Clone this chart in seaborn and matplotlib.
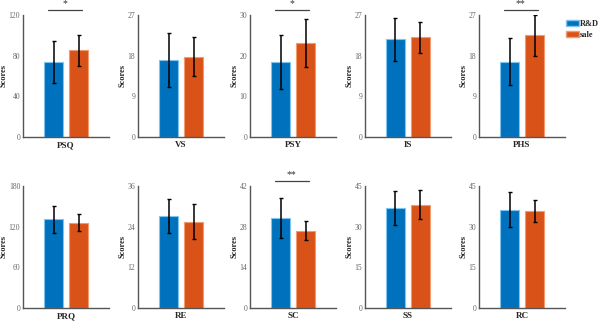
import matplotlib
matplotlib.use("Agg")
import matplotlib.pyplot as plt
import seaborn as sns
import pandas as pd
import numpy as np
from matplotlib.patches import Patch

sns.set_theme(style="white")
plt.rcParams['font.family'] = ['Liberation Serif', 'DejaVu Serif']

panels = ["PSQ", "VS", "PSY", "IS", "PHS", "PRQ", "RE", "SC", "SS", "RC"]
groups = ["R&D", "sale"]
rd_mean = [73.5, 17.0, 18.4, 21.6, 16.7, 130.8, 27.1, 31.0, 36.9, 36.3]
rd_sd = [20.5, 6.0, 6.6, 4.8, 5.1, 19.5, 5.0, 7.0, 6.3, 6.5]
sale_mean = [85.2, 17.8, 23.0, 22.1, 22.5, 125.9, 25.5, 26.6, 38.1, 35.8]
sale_sd = [15.5, 4.4, 5.9, 3.4, 4.6, 12.8, 5.1, 3.2, 5.3, 4.0]
ymax = [120, 27, 30, 27, 27, 180, 36, 42, 45, 45]
signif = ["*", "", "*", "", "**", "", "", "**", "", ""]

colors = {"R&D": "#0072BD", "sale": "#D95319"}
edges = {"R&D": "#7FC4F0", "sale": "#F29A70"}

fig = plt.figure(figsize=(6.0, 3.21), dpi=100)
W, H = 600, 321
lefts = [23, 138, 250, 365, 479]
tops = [15, 186]
aw, ah = 86, 122

for i, name in enumerate(panels):
    r, c = divmod(i, 5)
    ax = fig.add_axes([lefts[c] / W, 1 - (tops[r] + ah) / H, aw / W, ah / H])
    df = pd.DataFrame({"group": groups,
                       "mean": [rd_mean[i], sale_mean[i]],
                       "sd": [rd_sd[i], sale_sd[i]]})
    sns.barplot(data=df, x="group", y="mean", hue="group", palette=colors,
                width=0.76, ax=ax, legend=False, errorbar=None, saturation=1)
    for p, g in zip(ax.patches, groups):
        p.set_edgecolor(edges[g])
        p.set_linewidth(0.8)
    ax.errorbar(np.arange(len(df)), df["mean"], yerr=df["sd"], fmt="none",
                ecolor="black", elinewidth=1.1, capsize=1.5, capthick=1.0)
    ax.set_xlim(-1.22, 2.22)
    ax.set_ylim(0, ymax[i])
    ticks = np.linspace(0, ymax[i], 4)
    ax.set_yticks(ticks)
    ax.set_yticklabels([f"{v:g}" for v in ticks])
    ax.set_xticks([])
    ax.set_xlabel(name, fontsize=6.5, fontweight="bold", labelpad=3)
    ax.set_ylabel("Scores", fontsize=6, fontweight="bold", labelpad=1)
    ax.tick_params(axis="y", labelsize=5.5, labelcolor="#666666", length=0, pad=2)
    for s in ["top", "right"]:
        ax.spines[s].set_visible(False)
    for s in ["left", "bottom"]:
        ax.spines[s].set_color("#555555")
        ax.spines[s].set_linewidth(1.0)
    if signif[i]:
        ax.plot([-0.22, 1.12], [1.04 * ymax[i]] * 2, color="#444444", lw=0.9,
                clip_on=False)
        ax.text(0.45, 1.055 * ymax[i], signif[i], ha="center", va="bottom",
                fontsize=7, color="#333333")
    if i == 4:
        handles = [Patch(facecolor=colors[g], edgecolor=edges[g], label=g)
                   for g in groups]
        fig.legend(handles=handles, loc="upper left",
                   bbox_to_anchor=(566 / W, 1 - 20 / H), frameon=False,
                   prop={"size": 6, "weight": "bold"}, handlelength=1.5,
                   handleheight=0.6, handletextpad=0.15, labelspacing=0.35,
                   borderaxespad=0, borderpad=0)

fig.savefig("out.png", dpi=100)
